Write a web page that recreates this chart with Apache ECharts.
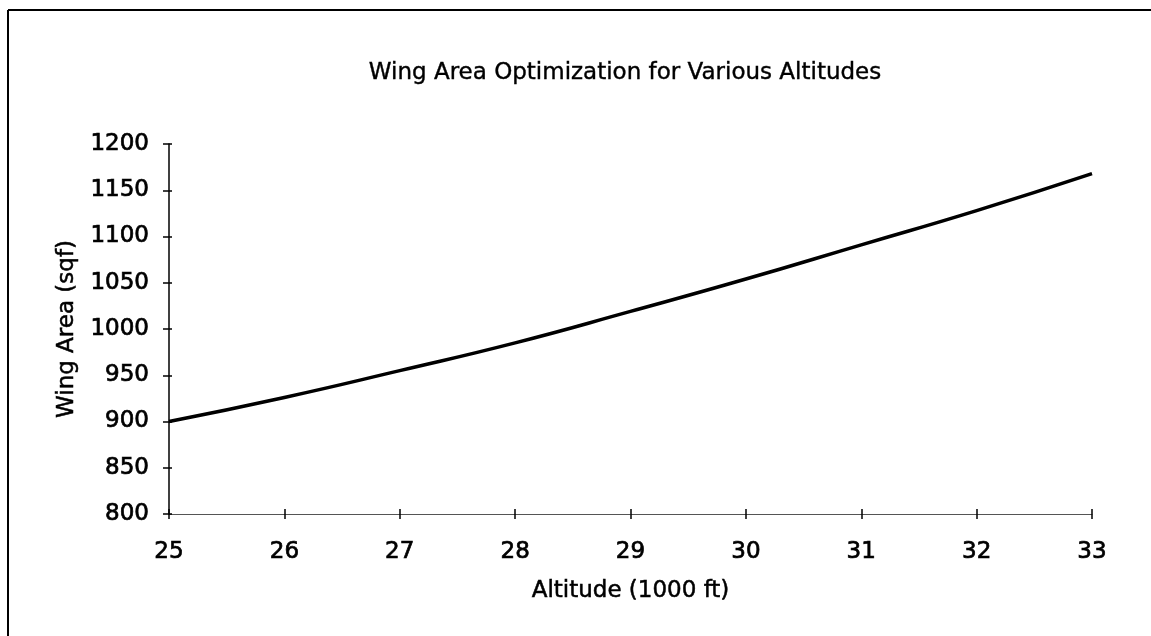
<!DOCTYPE html>
<html>
<head>
<meta charset="utf-8">
<title>Wing Area Optimization for Various Altitudes</title>
<script src="https://cdn.jsdelivr.net/npm/echarts@6/dist/echarts.min.js"></script>
<style>
	html, body { margin: 0; padding: 0; background: #fff; }
	#chart { width: 1151px; height: 636px; }
</style>
</head>
<body>
<div id="chart"></div>
<script>
	/*
	 * 数据
	 */
	var altitudes = [25, 26, 27, 28, 29, 30, 31, 32, 33];
	var wingArea = [900, 926, 955, 985, 1019, 1054, 1091, 1128, 1168];

	var xMin = 25, xMax = 33, xStep = 1;
	var yMin = 800, yMax = 1200, yStep = 50;

	var font = "'DejaVu Sans', 'Liberation Sans', Arial, sans-serif";

	var points = [];

	altitudes.forEach(function(a, i) {
		points.push([a, wingArea[i]]);
	});

	/*
	 * 文字样式 (扫描件文字偏粗)
	 */
	function textStyle(size, border) {
		return {
			fontFamily: font,
			fontSize: size,
			fontWeight: "normal",
			color: "#000",
			textBorderColor: "#000",
			textBorderWidth: border
		};
	}

	var ec = echarts.init(document.getElementById("chart"));

	ec.setOption({
		backgroundColor: "#fff",
		animation: false,
		title: {
			text: "Wing Area Optimization for Various Altitudes",
			left: 620,
			top: 57,
			textAlign: "center",
			textStyle: textStyle(23, 0.4)
		},
		/*
		 * 外框 (上边和左边)
		 */
		graphic: [{
			type: "line",
			shape: { x1: 8, y1: 10, x2: 1151, y2: 10 },
			style: { stroke: "#000", lineWidth: 2 }
		}, {
			type: "line",
			shape: { x1: 8, y1: 10, x2: 8, y2: 636 },
			style: { stroke: "#000", lineWidth: 2 }
		}],
		grid: {
			left: 169,
			right: 59,
			top: 144,
			bottom: 122
		},
		xAxis: [{
			type: "value",
			min: xMin,
			max: xMax,
			interval: xStep,
			name: "Altitude (1000 ft)",
			nameLocation: "middle",
			nameGap: 66,
			nameTextStyle: textStyle(23, 0.5),
			axisLine: { lineStyle: { color: "#555", width: 1 } },
			axisTick: { show: true, inside: false, length: 5, lineStyle: { color: "#000", width: 1.5 } },
			axisLabel: echarts.util.extend({
				margin: 27,
				formatter: function(v) { return String(v); }
			}, textStyle(23, 0.7)),
			splitLine: { show: false }
		}, {
			type: "value",
			min: xMin,
			max: xMax,
			interval: xStep,
			position: "bottom",
			axisLine: { show: false },
			axisTick: { show: true, inside: true, length: 5, lineStyle: { color: "#000", width: 1.5 } },
			axisLabel: { show: false },
			splitLine: { show: false }
		}],
		yAxis: [{
			type: "value",
			min: yMin,
			max: yMax,
			interval: yStep,
			name: "Wing Area (sqf)",
			nameLocation: "middle",
			nameGap: 87,
			nameRotate: 90,
			nameTextStyle: textStyle(23, 0.5),
			axisLine: { show: true, lineStyle: { color: "#000", width: 1.5 } },
			axisTick: { show: true, inside: false, length: 6, lineStyle: { color: "#000", width: 1.5 } },
			axisLabel: echarts.util.extend({
				margin: 20,
				formatter: function(v) { return String(v); }
			}, textStyle(23, 0.7)),
			splitLine: { show: false }
		}, {
			type: "value",
			min: yMin,
			max: yMax,
			interval: yStep,
			position: "left",
			axisLine: { show: false },
			axisTick: { show: true, inside: true, length: 3, lineStyle: { color: "#000", width: 1.5 } },
			axisLabel: { show: false },
			splitLine: { show: false }
		}],
		series: [{
			type: "line",
			data: points,
			smooth: true,
			showSymbol: false,
			lineStyle: { color: "#000", width: 3.5 }
		}]
	});
</script>
</body>
</html>
